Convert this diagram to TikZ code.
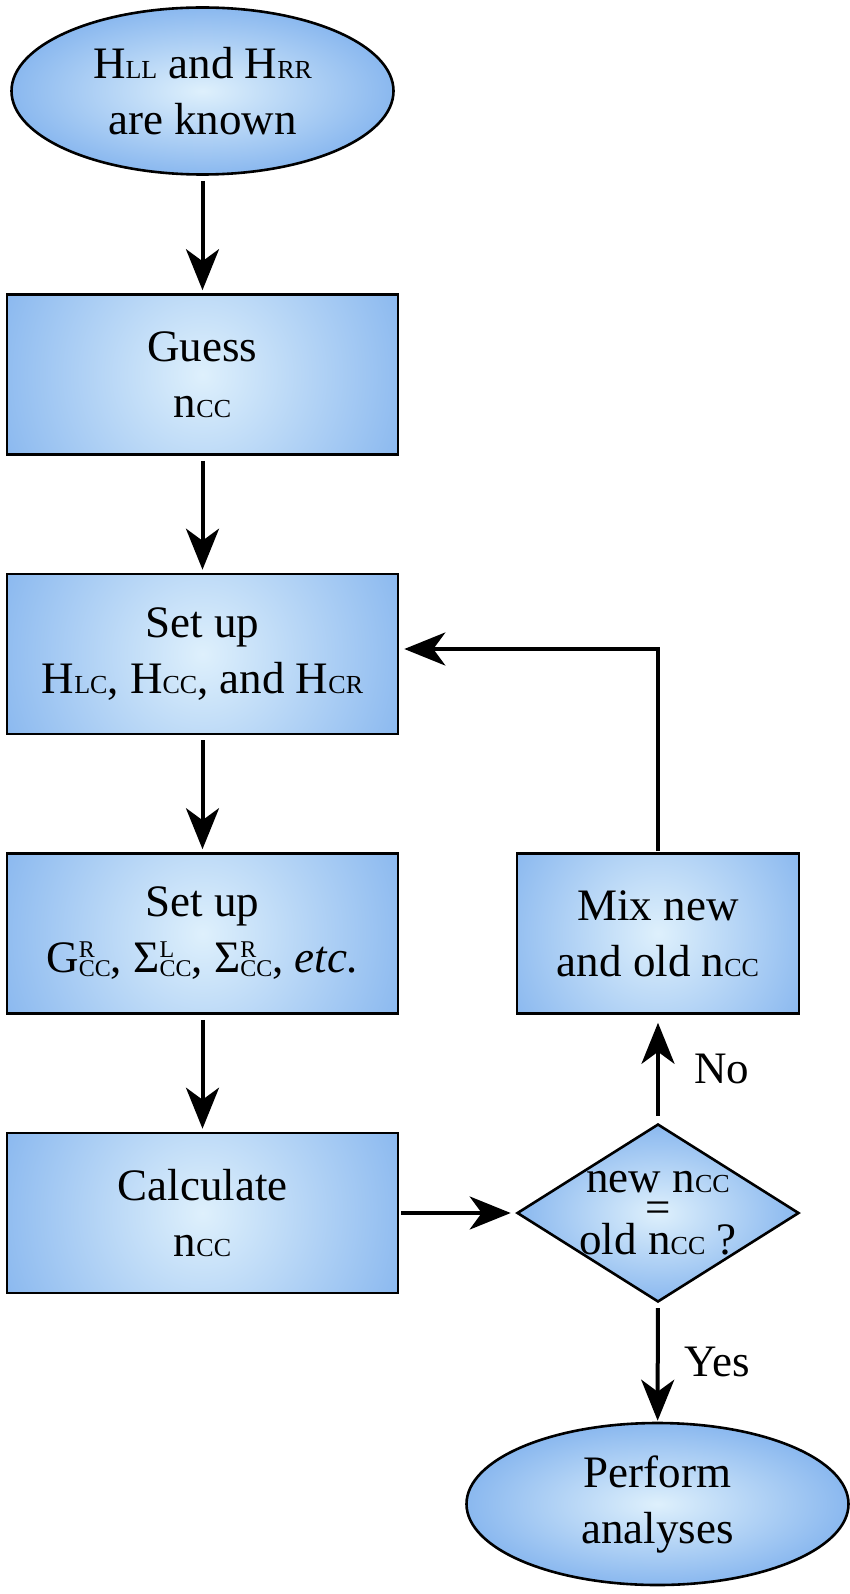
\documentclass[tikz,border=0pt]{standalone}
\usepackage{fontspec}
\setmainfont{Liberation Serif}
\usetikzlibrary{shapes.geometric,arrows.meta}
\definecolor{boxin}{RGB}{222,240,252}
\definecolor{boxout}{RGB}{138,184,239}
\newcommand{\sub}[1]{{\fontsize{26}{26}\selectfont #1}}
\newcommand{\supsub}[2]{\makebox[0pt][l]{\raisebox{15pt}{\fontsize{24}{24}\selectfont #1}}\raisebox{-4pt}{\fontsize{24}{24}\selectfont #2}}
\tikzset{
  txt/.style = {font=\fontsize{45}{56}\selectfont, align=center, inner sep=0pt},
  glow/.style = {path picture={\shade[inner color=boxin, outer color=boxout]
                 (path picture bounding box.center) circle (#1);}},
  blk/.style = {txt, rectangle, draw, line width=2.6pt, fill=boxout,
                glow=215pt, minimum width=391pt, minimum height=160pt},
  mixblk/.style = {blk, glow=165pt, minimum width=282pt},
  oval/.style = {txt, ellipse, draw, line width=2.6pt, inner color=boxin,
                 outer color=boxout, minimum width=382pt, minimum height=#1},
  diam/.style = {diamond, draw, line width=2.6pt, inner color=boxin,
                 outer color=boxout, minimum width=282pt, minimum height=178pt,
                 inner sep=0pt},
  arr/.style = {-{Stealth[length=41pt, width=33pt, inset=12pt]},
                line width=4pt, shorten <=5pt, shorten >=3pt}
}

\begin{document}
\begin{tikzpicture}[x=1pt, y=-1pt]
	\def \lx{202.5}  % left column
	\def \rx{658}    % right column
	\def \dy{279.5}  % row step

	\useasboundingbox (0,0) rectangle (850,1594);

	% Start and end
	\node[oval=167pt] (known) at (\lx,91) {H\sub{LL} and H\sub{RR}\\are known};
	\node[oval=162pt] (perform) at (657.5,1504) {Perform\\analyses};

	% Left column
	\node[blk] (guess) at (\lx,374.5) {Guess\\n\sub{CC}};
	\node[blk] (setH) at (\lx,374.5+\dy) {Set up\\H\sub{LC}, H\sub{CC}, and H\sub{CR}};
	\node[blk] (setG) at (\lx,374.5+2*\dy) {Set up\\G\supsub{R}{CC}, Σ\supsub{L}{CC}, Σ\supsub{R}{CC}, \textit{etc.}};
	\node[blk] (calc) at (\lx,1213) {Calculate\\n\sub{CC}};

	% Right column
	\node[mixblk] (mix) at (\rx,374.5+2*\dy) {Mix new\\and old n\sub{CC}};
	\node[diam] (test) at (\rx,1213) {};
	\node[txt, font=\fontsize{45}{30}\selectfont] (testtxt) at (test.center) {new n\sub{CC}\\=\\old n\sub{CC} ?};

	% Arrows
	\draw[arr] (known) -- (guess);
	\draw[arr] (guess) -- (setH);
	\draw[arr] (setH) -- (setG);
	\draw[arr] (setG) -- (calc);
	\draw[arr, shorten <=2pt, shorten >=5pt] (calc) -- (test);
	\draw[arr, shorten <=7pt, shorten >=8pt] (test) -- node[txt, right=34pt] (no) {No} (mix);
	\draw[arr, shorten >=1pt] (test) -- node[txt, right=25pt] (yes) {Yes} (perform);
	\draw[arr, shorten <=1pt, shorten >=5pt] (mix.north) |- ([yshift=5pt]setH.east);

\end{tikzpicture}
\end{document}
